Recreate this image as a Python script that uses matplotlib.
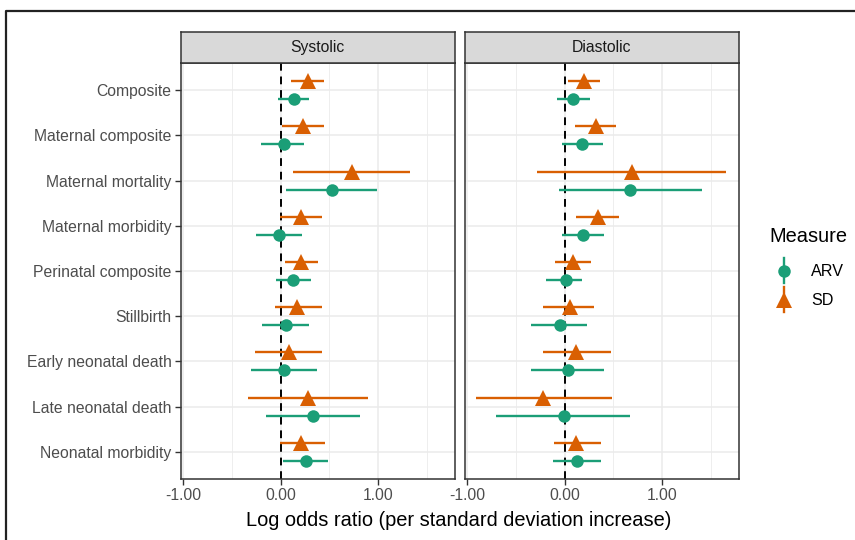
# %%
import numpy as np
import matplotlib.pyplot as plt
from matplotlib.lines import Line2D
from matplotlib.legend_handler import HandlerBase

plt.rcParams['font.family'] = ['Liberation Sans', 'DejaVu Sans']

# %%
# values (log odds ratio per SD increase, 95% CI)
outcomes = ["Composite", "Maternal composite", "Maternal mortality",
            "Maternal morbidity", "Perinatal composite", "Stillbirth",
            "Early neonatal death", "Late neonatal death", "Neonatal morbidity"]

sys_arv = [0.14, 0.03, 0.53, -0.02, 0.13, 0.06, 0.03, 0.33, 0.26]
sys_arv_lo = [-0.03, -0.20, 0.06, -0.25, -0.05, -0.19, -0.30, -0.15, 0.02]
sys_arv_hi = [0.29, 0.24, 0.99, 0.22, 0.31, 0.29, 0.37, 0.81, 0.49]
sys_sd = [0.28, 0.23, 0.73, 0.21, 0.21, 0.17, 0.09, 0.28, 0.21]
sys_sd_lo = [0.11, 0.01, 0.13, -0.01, 0.04, -0.06, -0.26, -0.33, -0.01]
sys_sd_hi = [0.44, 0.44, 1.32, 0.42, 0.38, 0.42, 0.42, 0.89, 0.45]

dia_arv = [0.09, 0.18, 0.67, 0.19, 0.01, -0.05, 0.03, -0.01, 0.13]
dia_arv_lo = [-0.08, -0.03, -0.06, -0.03, -0.19, -0.34, -0.34, -0.70, -0.12]
dia_arv_hi = [0.26, 0.39, 1.41, 0.40, 0.18, 0.23, 0.40, 0.67, 0.37]
dia_sd = [0.20, 0.32, 0.69, 0.34, 0.09, 0.05, 0.12, -0.22, 0.12]
dia_sd_lo = [0.03, 0.11, -0.28, 0.12, -0.10, -0.22, -0.22, -0.91, -0.11]
dia_sd_hi = [0.36, 0.53, 1.65, 0.56, 0.27, 0.30, 0.47, 0.48, 0.37]

xtick_vals = [-1, 0, 1]
xtick_labels = ["-1.00", "0.00", "1.00"]

GREEN = "#1b9e77"
ORANGE = "#d95f02"

# %%
W, H = 855, 540


def px_box(l, t, r, b):
    # pixel box -> figure fraction rect
    return [l / W, 1 - b / H, (r - l) / W, (b - t) / H]


fig = plt.figure(figsize=(W / 100, H / 100), dpi=100)

ypos = np.arange(len(outcomes), 0, -1).astype(float)

panels = [
    ("Systolic", sys_arv, sys_arv_lo, sys_arv_hi, sys_sd, sys_sd_lo, sys_sd_hi, 180.5),
    ("Diastolic", dia_arv, dia_arv_lo, dia_arv_hi, dia_sd, dia_sd_lo, dia_sd_hi, 464.5),
]

for k, (name, arv, arv_lo, arv_hi, sd, sd_lo, sd_hi, left) in enumerate(panels):
    arv, arv_lo, arv_hi = np.array(arv), np.array(arv_lo), np.array(arv_hi)
    sd, sd_lo, sd_hi = np.array(sd), np.array(sd_lo), np.array(sd_hi)

    ax = fig.add_axes(px_box(left, 63, left + 274, 479))
    ax.set_xlim(-1.025, 1.78)
    ax.set_ylim(0.4, len(outcomes) + 0.6)
    ax.set_xticks(xtick_vals)
    ax.set_xticklabels(xtick_labels)
    ax.set_xticks([-0.5, 0.5, 1.5], minor=True)
    ax.set_yticks(ypos)
    if k == 0:
        ax.set_yticklabels(outcomes)
        ax.tick_params(axis='y', length=4.5, width=1, color='#333333',
                       labelsize=11.3, labelcolor='#4d4d4d', pad=2)
    else:
        ax.set_yticklabels([])
        ax.tick_params(axis='y', length=0)
    ax.tick_params(axis='x', which='major', length=4.5, width=1, color='#333333',
                   labelsize=11.3, labelcolor='#4d4d4d', pad=2)
    ax.tick_params(axis='x', which='minor', length=0)
    ax.grid(which='major', color='#ebebeb', lw=1.1)
    ax.grid(which='minor', axis='x', color='#ebebeb', lw=0.6)
    ax.set_axisbelow(True)
    for s in ax.spines.values():
        s.set_color('#333333')
        s.set_linewidth(1.1)

    ax.axvline(0, color='black', ls=(0, (4, 3)), lw=1.4, zorder=2)

    ax.errorbar(arv, ypos - 0.2, xerr=[arv - arv_lo, arv_hi - arv], fmt='o',
                color=GREEN, ms=9, mew=0, elinewidth=1.7, capsize=0, zorder=3)
    ax.errorbar(sd, ypos + 0.2, xerr=[sd - sd_lo, sd_hi - sd], fmt='^',
                color=ORANGE, ms=11, mew=0, elinewidth=1.7, capsize=0, zorder=3)

    # facet strip
    sax = fig.add_axes(px_box(left, 32, left + 274, 63))
    sax.set_facecolor('#d9d9d9')
    sax.set_xticks([])
    sax.set_yticks([])
    for s in sax.spines.values():
        s.set_color('#333333')
        s.set_linewidth(1.1)
    sax.text(0.5, 0.5, name, ha='center', va='center', fontsize=11.3,
             color='#1a1a1a', transform=sax.transAxes)

fig.text(458.5 / W, 1 - 520 / H, "Log odds ratio (per standard deviation increase)",
         ha='center', va='center', fontsize=14.4, color='black')


# %%
# legend keys look like ggplot pointrange: vertical line + marker
class PointRangeHandler(HandlerBase):
    def create_artists(self, legend, orig_handle, xdescent, ydescent,
                       width, height, fontsize, trans):
        cx = width / 2 - xdescent
        cy = height / 2 - ydescent
        c = orig_handle.get_color()
        vline = Line2D([cx, cx], [cy - 9, cy + 9], color=c, lw=1.7, transform=trans)
        pt = Line2D([cx], [cy], marker=orig_handle.get_marker(),
                    ms=orig_handle.get_markersize(), mew=0, color=c, ls='none',
                    transform=trans)
        return [vline, pt]


h_arv = Line2D([], [], color=GREEN, marker='o', ms=9)
h_sd = Line2D([], [], color=ORANGE, marker='^', ms=11)
leg = fig.legend([h_arv, h_sd], ["ARV", "SD"], title="Measure",
                 loc='upper left', bbox_to_anchor=(769 / W, 1 - 227 / H),
                 frameon=False, fontsize=11.6, title_fontsize=14.4,
                 handler_map={Line2D: PointRangeHandler()},
                 handlelength=1.8, handleheight=1.85, handletextpad=0.8,
                 labelspacing=0.35, borderpad=0, borderaxespad=0, alignment='left')
# wider gap between title and keys
leg._legend_box.sep = 9.5

# outer frame (top and left edges visible)
fig.add_artist(Line2D([6 / W, 6 / W, 1.0], [0.0, 1 - 11 / H, 1 - 11 / H],
                      color='#222222', lw=1.6, transform=fig.transFigure))

fig.savefig("out.png", dpi=100)
